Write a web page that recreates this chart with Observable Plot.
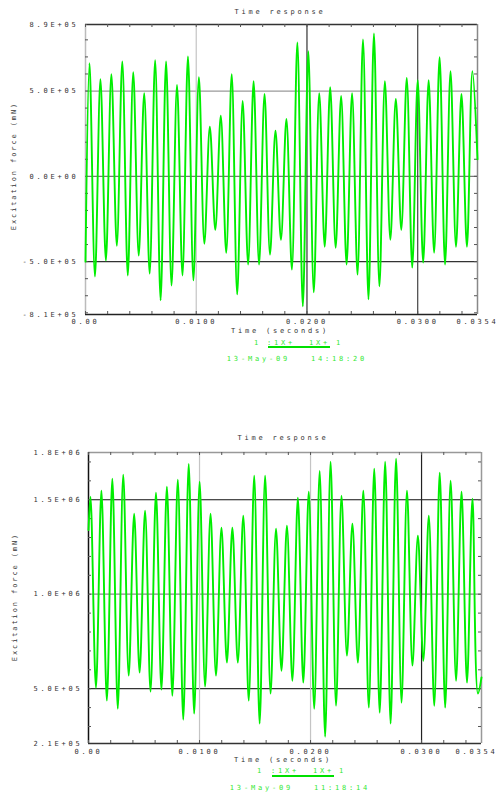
<!DOCTYPE html>
<html>
<head>
<meta charset="utf-8">
<script src="https://cdn.jsdelivr.net/npm/d3@7"></script>
<script src="https://cdn.jsdelivr.net/npm/@observablehq/plot@0.6"></script>
<style>
  html, body { margin: 0; padding: 0; background: #fff; overflow: hidden; }
  #wrap { position: relative; width: 500px; height: 796px; }
  .lbl { position: absolute; font-family: "DejaVu Sans Mono", monospace; font-size: 7px; letter-spacing: 2.8px; white-space: pre; color: #333; }
  .grn { color: #33e833; }
  .chart { position: absolute; left: 0; }
  .ylab { position: absolute; font-family: "DejaVu Sans Mono", monospace; font-size: 7px; letter-spacing: 1.9px; white-space: pre; color: #333; transform: translate(-50%, -50%) rotate(-90deg); }
  .uline { position: absolute; height: 2px; background: #00e000; }
</style>
</head>
<body>
<div id="wrap"></div>
<script>
// ---------- DATA ----------
const xTicks = [0, 0.01, 0.02, 0.03];
const xTickLabels = ["0.00", "0.0100", "0.0200", "0.0300"];
const xEndTick = [0.0354];
const xEndLabel = ["0.0354"];
const xDomain = [0, 0.0354];

// top chart (force, mN)
const topYDomain = [-8.1e5, 8.9e5];
const topYTicks = [-8.1e5, -5e5, 0, 5e5, 8.9e5];
const topYTickLabels = ["-8.1E+05", "-5.0E+05", "0.0E+00", "5.0E+05", "8.9E+05"];
const topFirstPeakTime = 0.00036;
const topPeriod = 0.000988;
const topStart = -5.0e5;
const topEnd = 1.0e5;
const topPeaks = [6.63e5,5.70e5,5.99e5,6.74e5,6.10e5,4.88e5,6.80e5,6.74e5,5.35e5,7.03e5,5.81e5,2.91e5,3.55e5,5.99e5,4.42e5,5.58e5,4.83e5,2.67e5,3.37e5,7.85e5,7.33e5,4.88e5,5.23e5,4.71e5,4.88e5,8.02e5,8.37e5,5.58e5,4.53e5,5.76e5,5.64e5,5.64e5,6.98e5,6.16e5,4.83e5,6.16e5];
const topTroughs = [-5.87e5,-4.94e5,-4.07e5,-5.81e5,-4.65e5,-5.70e5,-7.27e5,-6.40e5,-5.81e5,-6.10e5,-3.95e5,-3.14e5,-4.48e5,-6.92e5,-5.17e5,-5.17e5,-4.59e5,-3.72e5,-5.47e5,-7.62e5,-6.80e5,-4.13e5,-4.19e5,-5.17e5,-5.76e5,-7.21e5,-6.45e5,-3.72e5,-3.14e5,-5.35e5,-5.06e5,-4.48e5,-5.17e5,-4.13e5,-4.13e5];

// bottom chart
const botYDomain = [2.1e5, 1.75e6];
const botYTicks = [2.1e5, 5e5, 1.0e6, 1.5e6, 1.75e6];
const botYTickLabels = ["2.1E+05", "5.0E+05", "1.0E+06", "1.5E+06", "1.8E+06"];
const botFirstPeakTime = 0.00018;
const botPeriod = 0.000983;
const botStart = 13.4e5;
const botEnd = 5.6e5;
const botPeaks = [15.16e5,15.48e5,16.11e5,16.32e5,14.26e5,14.42e5,15.37e5,15.69e5,16.06e5,16.90e5,15.95e5,14.26e5,13.52e5,13.52e5,14.15e5,16.27e5,16.27e5,13.47e5,13.62e5,15.11e5,15.42e5,16.53e5,17.01e5,15.21e5,13.73e5,15.48e5,16.64e5,17.01e5,17.17e5,15.48e5,13.10e5,14.15e5,16.43e5,16.01e5,15.42e5,15.05e5];
const botTroughs = [5.05e5,4.37e5,3.94e5,5.69e5,5.85e5,4.84e5,4.95e5,4.63e5,3.36e5,3.68e5,5.11e5,5.69e5,6.38e5,6.38e5,4.37e5,3.15e5,4.74e5,5.95e5,5.42e5,5.32e5,3.94e5,2.46e5,4.10e5,6.75e5,6.38e5,4.00e5,3.73e5,3.15e5,4.26e5,6.22e5,6.48e5,4.10e5,4.00e5,5.42e5,5.32e5,4.74e5];

const minorX = d3.range(0, 0.0354, 0.002);
const topMinorY = d3.range(-8e5, 8.9e5, 1e5);
const botMinorY = d3.range(3e5, 1.75e6, 1e5);

// ---------- build series ----------
function series(start, end, peaks, troughs, t0, period) {
  const pts = [{t: 0, v: start}];
  peaks.forEach((p, i) => {
    pts.push({t: t0 + i * period, v: p});
    if (i < troughs.length) pts.push({t: t0 + (i + 0.5) * period, v: troughs[i]});
  });
  pts.push({t: xDomain[1], v: end});
  return pts;
}
const topData = series(topStart, topEnd, topPeaks, topTroughs, topFirstPeakTime, topPeriod);
const botData = series(botStart, botEnd, botPeaks, botTroughs, botFirstPeakTime, botPeriod);

function chart(opts) {
  const H = opts.innerH;
  const W = 500 - opts.ml - opts.mr;
  return Plot.plot({
    width: 500,
    height: 24 + H + 16,
    marginTop: 24,
    marginBottom: 16,
    marginLeft: opts.ml,
    marginRight: opts.mr,
    style: {fontFamily: "DejaVu Sans Mono, monospace", fontSize: "7px", letterSpacing: "2.8px", color: "#333", background: "white", overflow: "visible"},
    x: {domain: xDomain},
    y: {domain: opts.yDomain},
    marks: [
      ...opts.hGrid.map(([v, c]) => Plot.ruleY([v], {stroke: c, strokeWidth: 1.2})),
      ...opts.vGrid.map(([v, c]) => Plot.ruleX([v], {stroke: c, strokeWidth: 1.2})),
      Plot.ruleY([opts.yDomain[1]], {stroke: opts.frame.top, strokeWidth: 1.5}),
      Plot.ruleY([opts.yDomain[0]], {stroke: opts.frame.bottom, strokeWidth: 1.5}),
      Plot.ruleX([xDomain[0]], {stroke: opts.frame.left, strokeWidth: 1.5}),
      Plot.ruleX([xDomain[1]], {stroke: opts.frame.right, strokeWidth: 1.5}),
      Plot.tickX(minorX, {x: d => d, insetBottom: H - 3, stroke: "#555"}),
      Plot.tickX(minorX, {x: d => d, insetTop: H - 3, stroke: "#555"}),
      Plot.tickY(opts.minorY, {y: d => d, insetRight: W - 3, stroke: "#555"}),
      Plot.tickY(opts.minorY, {y: d => d, insetLeft: W - 3, stroke: "#555"}),
      Plot.line(opts.data, {x: "t", y: "v", stroke: "#00ee00", strokeWidth: 1.9, curve: "catmull-rom"}),
      Plot.axisX(xTicks, {anchor: "bottom", tickSize: 0, tickPadding: opts.xPad, tickFormat: (d, i) => xTickLabels[i], label: null, fill: "#333"}),
      Plot.axisX(xEndTick, {anchor: "bottom", tickSize: 0, tickPadding: opts.xPad, tickFormat: (d, i) => xEndLabel[i], label: null, fill: "#333", dx: opts.endDx}),
      Plot.axisY(opts.yTicks, {anchor: "left", tickSize: 0, tickPadding: opts.yPad, tickFormat: (d, i) => opts.yLabels[i], label: null, fill: "#333"})
    ]
  });
}

const wrap = document.getElementById("wrap");

const c1 = chart({
  innerH: 290, ml: 85, mr: 23, xPad: 5, yPad: 7, endDx: 0,
  yDomain: topYDomain, yTicks: topYTicks, yLabels: topYTickLabels, minorY: topMinorY,
  data: topData,
  hGrid: [[5e5, "#9a9a9a"], [0, "#777"], [-5e5, "#333"]],
  vGrid: [[0.01, "#c4c4c4"], [0.02, "#333"], [0.03, "#444"]],
  frame: {top: "#333", bottom: "#222", left: "#bbb", right: "#888"}
});
c1.classList.add("chart"); c1.style.top = "0px";
wrap.appendChild(c1);

const c2 = chart({
  innerH: 291, ml: 88, mr: 19, xPad: 6, yPad: 6, endDx: -5,
  yDomain: botYDomain, yTicks: botYTicks, yLabels: botYTickLabels, minorY: botMinorY,
  data: botData,
  hGrid: [[1.5e6, "#111"], [1.0e6, "#888"], [5e5, "#333"]],
  vGrid: [[0.01, "#c4c4c4"], [0.02, "#c4c4c4"], [0.03, "#222"]],
  frame: {top: "#999", bottom: "#333", left: "#111", right: "#999"}
});
c2.classList.add("chart"); c2.style.top = "428px";
wrap.appendChild(c2);

// ---------- texts ----------
function label(text, x, y, cls, anchor) {
  const d = document.createElement("div");
  d.className = cls;
  d.textContent = text;
  d.style.left = x + "px";
  d.style.top = y + "px";
  d.style.transform = anchor === "middle" ? "translate(-50%, -50%)" : "translate(0, -50%)";
  wrap.appendChild(d);
  return d;
}
function ylabel(text, x, y) {
  const d = document.createElement("div");
  d.className = "ylab";
  d.textContent = text;
  d.style.left = x + "px";
  d.style.top = y + "px";
  wrap.appendChild(d);
}
function uline(x1, x2, y) {
  const d = document.createElement("div");
  d.className = "uline";
  d.style.left = x1 + "px"; d.style.width = (x2 - x1) + "px"; d.style.top = y + "px";
  wrap.appendChild(d);
}

// top chart
label("Time response", 280, 12, "lbl", "middle");
label("Time (seconds)", 280, 331, "lbl", "middle");
ylabel("Excitation force (mN)", 14, 166);
label("1", 254, 343, "lbl grn");
label(":1X+  1X+", 267, 343, "lbl grn");
label("1", 336, 343, "lbl grn");
uline(268, 330, 346);
label("13-May-09   14:18:20", 297, 359, "lbl grn", "middle");

// bottom chart
label("Time response", 283, 438, "lbl", "middle");
label("Time (seconds)", 283, 760, "lbl", "middle");
ylabel("Excitation force (mN)", 15, 597);
label("1", 257, 771, "lbl grn");
label(":1X+  1X+", 271, 771, "lbl grn");
label("1", 339, 771, "lbl grn");
uline(272, 334, 775);
label("13-May-09   11:18:14", 300, 788, "lbl grn", "middle");
</script>
</body>
</html>
